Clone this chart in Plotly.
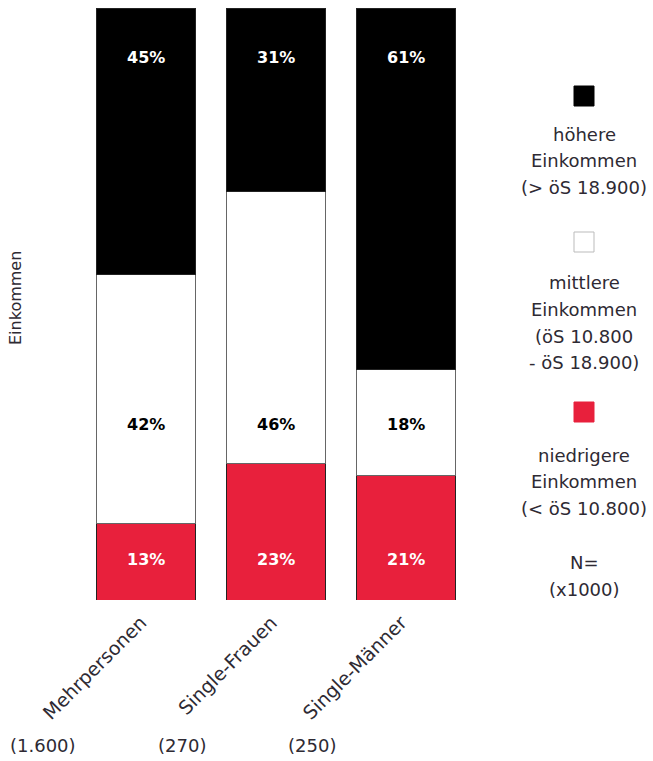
import plotly.graph_objects as go

# Household types and sample sizes (in thousands)
categories = ["Mehrpersonen", "Single-Frauen", "Single-Männer"]
sample_sizes = ["(1.600)", "(270)", "(250)"]

# Income shares per household type, in percent
low_income = [13, 23, 21]
mid_income = [42, 46, 18]
high_income = [45, 31, 61]

legend_items = [
    ("#000000", ["höhere", "Einkommen", "(> öS 18.900)"]),
    ("#ffffff", ["mittlere", "Einkommen", "(öS 10.800", "- öS 18.900)"]),
    ("#e8203c", ["niedrigere", "Einkommen", "(< öS 10.800)"]),
]

RED = "#e8203c"
TEXT = "#2e2a33"
FONT = "DejaVu Sans, Arial, sans-serif"

W, H = 653, 761
L, R, T, B = 81, 182, 8, 161
PW, PH = W - L - R, H - T - B


def px_x(x):
    return (x - L) / PW


def px_y(y):
    return (H - B - y) / PH


fig = go.Figure()
line = dict(color="#222222", width=1)
fig.add_bar(x=categories, y=low_income, marker=dict(color=RED, line=line),
            name="niedrigere Einkommen")
fig.add_bar(x=categories, y=mid_income, marker=dict(color="#ffffff", line=dict(color="#666666", width=1)),
            name="mittlere Einkommen")
fig.add_bar(x=categories, y=high_income, marker=dict(color="#000000", line=line),
            name="höhere Einkommen")

annotations = []
for i, cat in enumerate(categories):
    # Percentage labels inside the bars
    for val, ypos, col in ((high_income[i], 91.7, "white"),
                           (mid_income[i], 29.7, "black"),
                           (low_income[i], 6.8, "white")):
        annotations.append(dict(x=cat, y=ypos, xref="x", yref="y", text=f"{val}%",
                                showarrow=False,
                                font=dict(family=FONT, size=16, color=col, weight="bold")))
    # Slanted category label under each bar
    annotations.append(dict(x=cat, y=px_y(608), xref="x", yref="paper", text=cat,
                            textangle=-45, showarrow=False, xanchor="right", yanchor="top",
                            xshift=8, font=dict(family=FONT, size=19, color=TEXT)))
    # Sample size
    annotations.append(dict(x=cat, y=px_y(745), xref="x", yref="paper", text=sample_sizes[i],
                            showarrow=False, xanchor="right", yanchor="middle", xshift=-68,
                            font=dict(family=FONT, size=18, color=TEXT)))

# Axis title
annotations.append(dict(x=px_x(15), y=px_y(298), xref="paper", yref="paper", text="Einkommen",
                        textangle=-90, showarrow=False, xanchor="center", yanchor="middle",
                        font=dict(family=FONT, size=16, color=TEXT)))

# Custom legend: square with centred multi-line caption below
shapes = []
cx = 584
sq_centres = [96, 242, 412]
text_starts = [134, 283, 455]
for (col, lines), sy, ty in zip(legend_items, sq_centres, text_starts):
    shapes.append(dict(type="rect", xref="paper", yref="paper",
                       x0=px_x(cx - 10), x1=px_x(cx + 10), y0=px_y(sy + 10), y1=px_y(sy - 10),
                       fillcolor=col, line=dict(color="#bbbbbb" if col == "#ffffff" else col, width=1)))
    for k, txt in enumerate(lines):
        annotations.append(dict(x=px_x(cx), y=px_y(ty + 26.5 * k), xref="paper", yref="paper",
                                text=txt, showarrow=False, xanchor="center", yanchor="middle",
                                font=dict(family=FONT, size=18, color=TEXT)))
for k, txt in enumerate(["N=", "(x1000)"]):
    annotations.append(dict(x=px_x(cx), y=px_y(562 + 27 * k), xref="paper", yref="paper",
                            text=txt, showarrow=False, xanchor="center", yanchor="middle",
                            font=dict(family=FONT, size=18, color=TEXT)))

fig.update_layout(
    width=W, height=H,
    margin=dict(l=L, r=R, t=T, b=B),
    barmode="stack", bargap=0.246,
    showlegend=False,
    plot_bgcolor="white", paper_bgcolor="white",
    xaxis=dict(range=[-0.5, 2.5], showline=False, ticks="", showticklabels=False,
               showgrid=False),
    yaxis=dict(range=[0, 100], visible=False),
    annotations=annotations,
    shapes=shapes,
)

fig.write_html("out.html")
